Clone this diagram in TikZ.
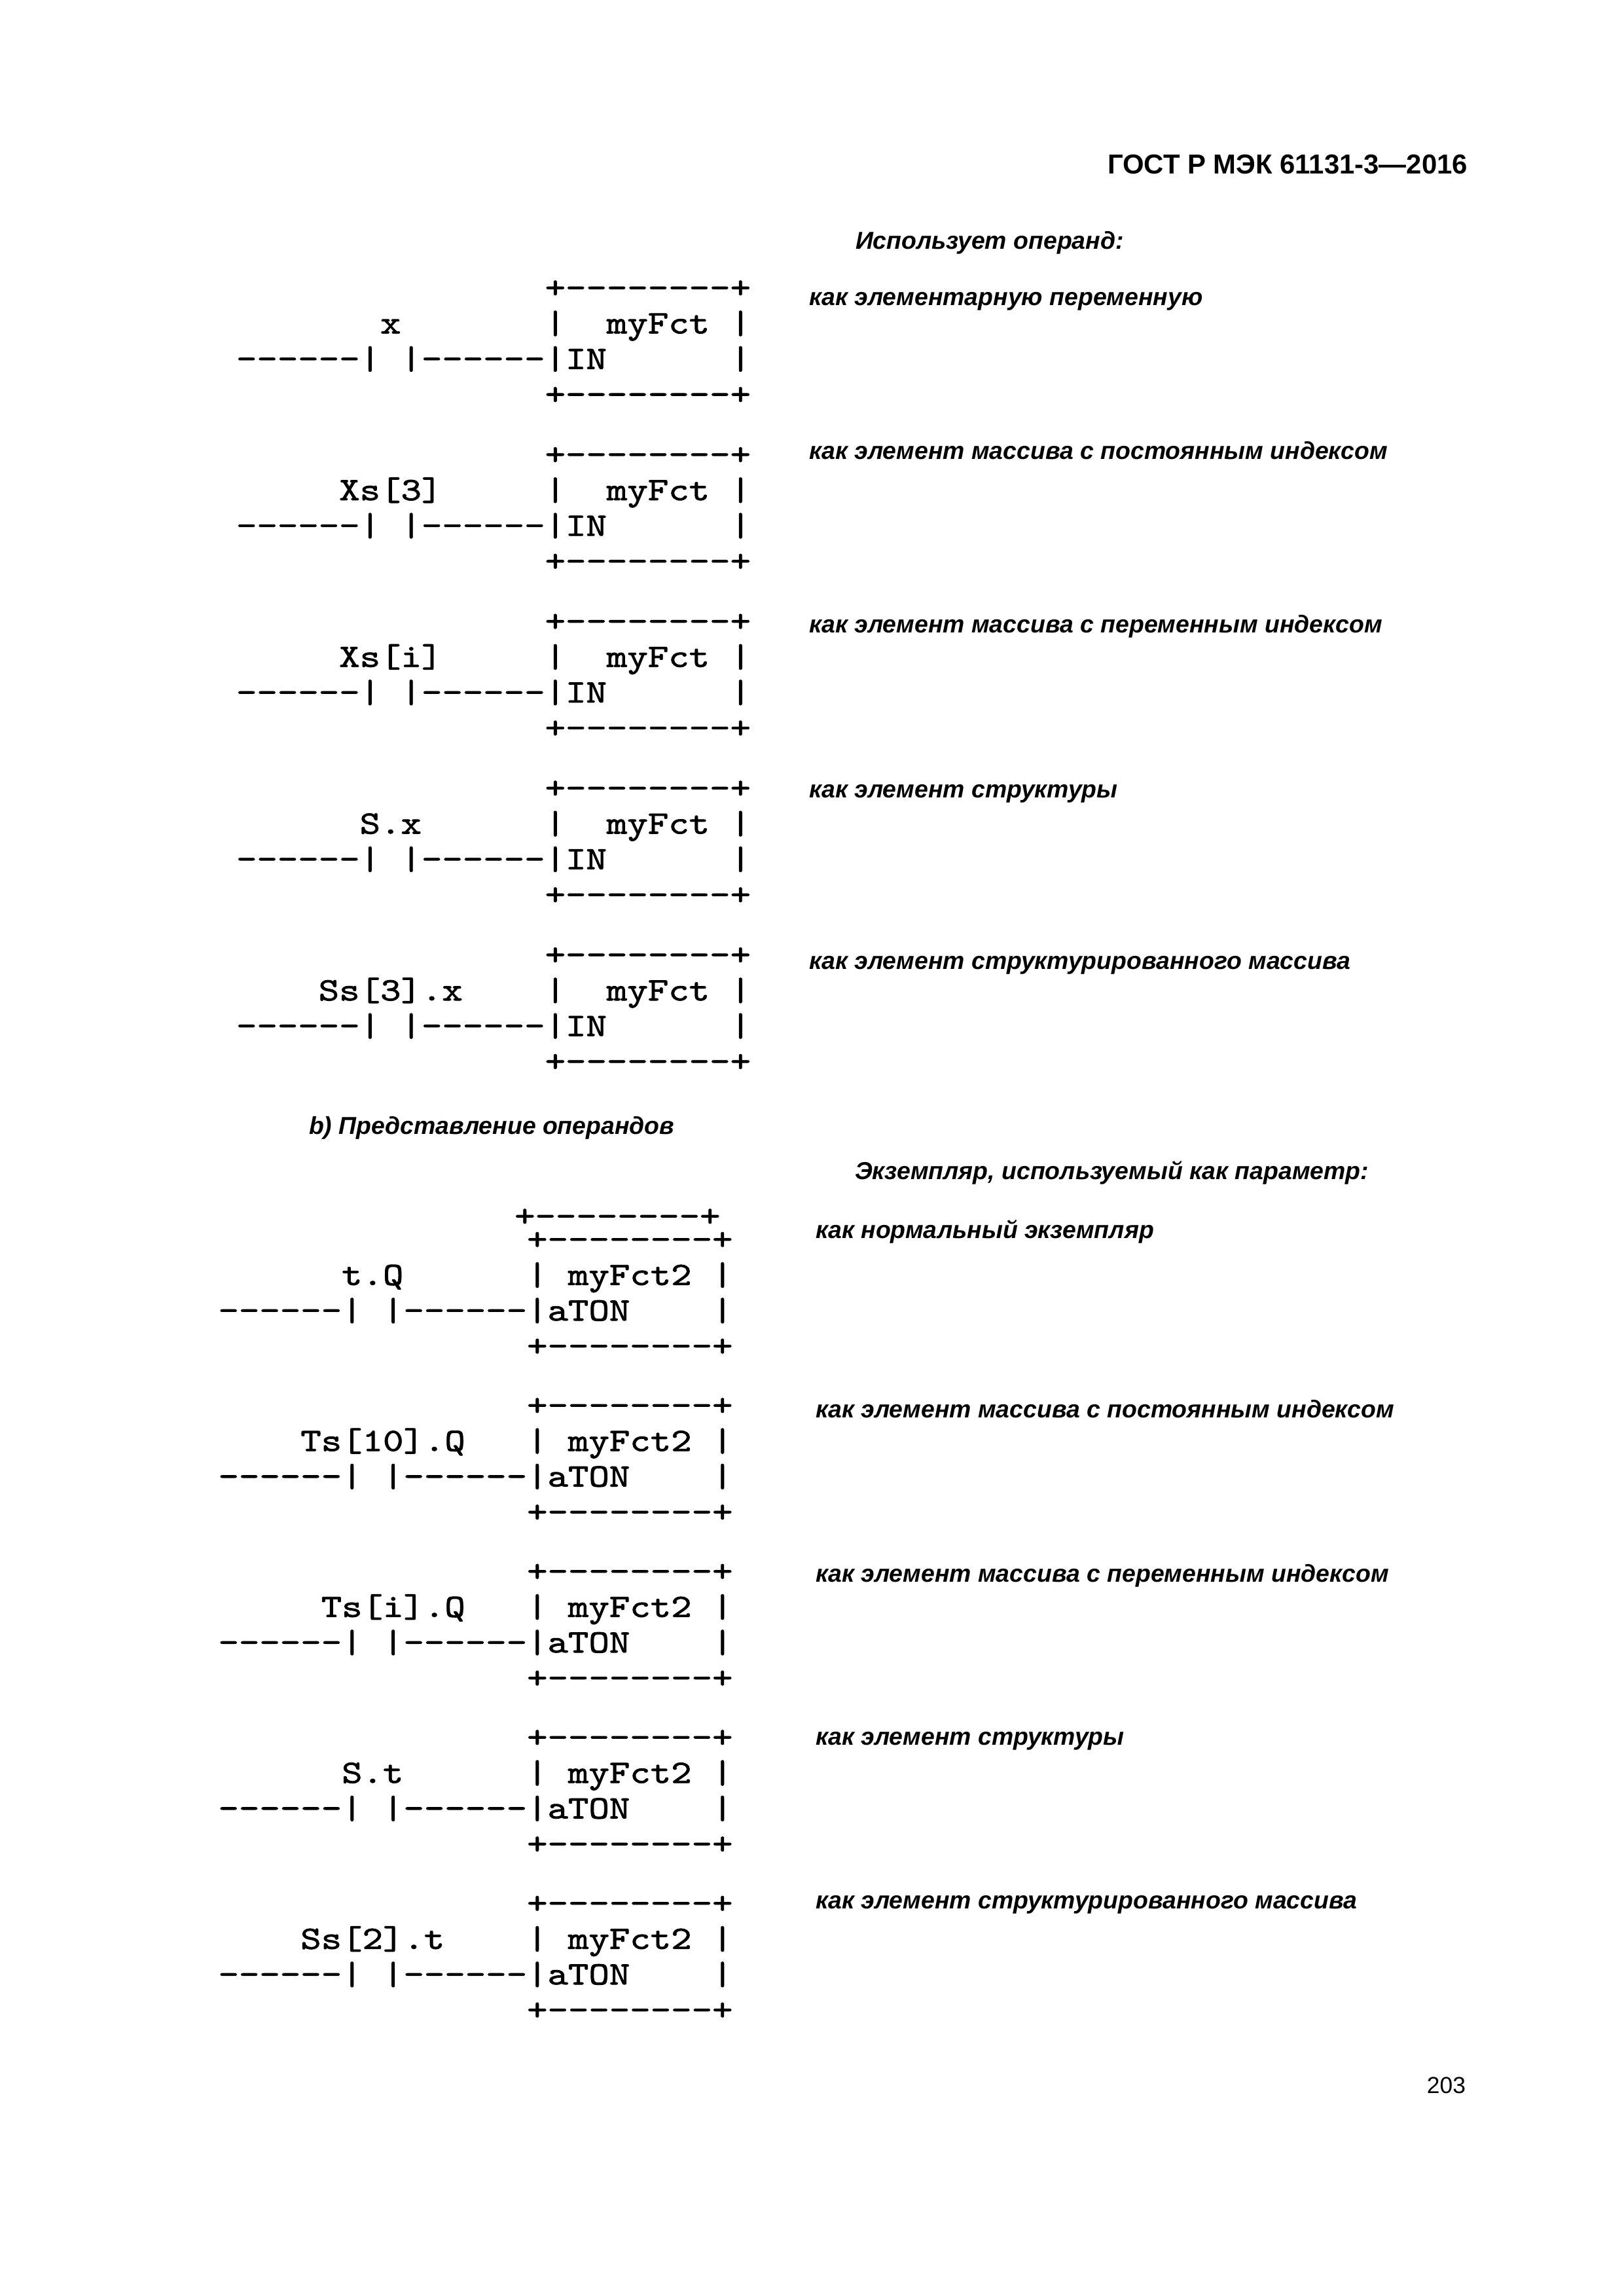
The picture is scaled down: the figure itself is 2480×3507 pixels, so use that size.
\documentclass[tikz,border=0pt]{standalone}
\usepackage{fontspec}
\setmainfont{Liberation Sans}
\newfontfamily\monof[FakeStretch=1.2,FakeBold=1.6,Ligatures=TeXOff]{lmmono10-regular.otf}
\newlength\wtmp
\def\CW{31.44}
\def\LS{54.3}
\def\XA{361}
\def\XB{333.5}
\newcommand\fblock[8]{%
 \node[mono] (#1a) at ({#2+15*\CW},{#3}) {+--------+};
 \node[mono] (#1b) at ({#2+#4*\CW},{#3+\LS}) {#5};
 \node[mono] (#1c) at ({#2+15*\CW},{#3+\LS}) {|};
 \node[mono] (#1d) at ({#2+#7*\CW},{#3+\LS}) {#6};
 \node[mono] (#1e) at ({#2+24*\CW},{#3+\LS}) {|};
 \node[mono] (#1f) at ({#2},{#3+2*\LS}) {------|};
 \node[mono] (#1g) at ({#2+8*\CW},{#3+2*\LS}) {|------|#8};
 \node[mono] (#1h) at ({#2+24*\CW},{#3+2*\LS}) {|};
 \node[mono] (#1i) at ({#2+15*\CW},{#3+3*\LS}) {+--------+};
}
\begin{document}
\settowidth\wtmp{\bfseries\itshape\fontsize{10}{12}\selectfont как элемент массива с постоянным индексом}%
\pgfmathsetmacro\itsz{10*212.2/\wtmp}%
\settowidth\wtmp{\bfseries\fontsize{10}{12}\selectfont ГОСТ Р МЭК 61131-3—2016}%
\pgfmathsetmacro\hdsz{10*132/\wtmp}%
\begin{tikzpicture}[x=0.24pt,y=-0.24pt,
  mono/.style={anchor=base west,inner sep=0pt,outer sep=0pt,font=\monof\fontsize{11.977}{14}\selectfont},
  lab/.style={anchor=base west,inner sep=0pt,outer sep=0pt,font=\bfseries\itshape\fontsize{\itsz}{\itsz}\selectfont},
  hdr/.style={anchor=base east,inner sep=0pt,outer sep=0pt,font=\bfseries\fontsize{\hdsz}{\hdsz}\selectfont},
  pnum/.style={anchor=base east,inner sep=0pt,outer sep=0pt,font=\fontsize{8.5}{10}\selectfont}]
\fill[white] (0,0) rectangle (2480,3507);
\useasboundingbox (0,0) rectangle (2480,3507);
% header and page number
\node[hdr] (hd) at (2242,266) {ГОСТ Р МЭК 61131-3—2016};
\node[pnum] (pn) at (2239,3197) {203};
% top set
\node[lab] (u0) at (1307,381) {Использует операнд:};
\node[lab] (u1) at (1236,467) {как элементарную переменную};
\node[lab] (u2) at (1236,702) {как элемент массива с постоянным индексом};
\node[lab] (u3) at (1236,967) {как элемент массива с переменным индексом};
\node[lab] (u4) at (1236,1218) {как элемент структуры};
\node[lab] (u5) at (1236,1480) {как элемент структурированного массива};
\fblock{ta}{\XA}{455}{7}{x}{myFct}{18}{IN}
\fblock{tb}{\XA}{709.7}{5}{Xs[3]}{myFct}{18}{IN}
\fblock{tc}{\XA}{964.4}{5}{Xs[i]}{myFct}{18}{IN}
\fblock{td}{\XA}{1219.1}{6}{S.x}{myFct}{18}{IN}
\fblock{te}{\XA}{1473.8}{4}{Ss[3].x}{myFct}{18}{IN}
% caption b)
\node[lab] (cb) at (472,1732) {b) Представление операндов};
% bottom set
\node[lab] (v0) at (1306,1801) {Экземпляр, используемый как параметр:};
\node[lab] (v1) at (1246,1891) {как нормальный экземпляр};
\node[lab] (v2) at (1246,2165) {как элемент массива с постоянным индексом};
\node[lab] (v3) at (1246,2416) {как элемент массива с переменным индексом};
\node[lab] (v4) at (1246,2665) {как элемент структуры};
\node[lab] (v5) at (1246,2915) {как элемент структурированного массива};
\node[mono] (bx) at ({\XB+15*\CW-19},1873) {+--------+};
\fblock{ba}{\XB}{1908.5}{6}{t.Q}{myFct2}{17}{aTON}
\fblock{bb}{\XB}{2162}{4}{Ts[10].Q}{myFct2}{17}{aTON}
\fblock{bc}{\XB}{2415.5}{5}{Ts[i].Q}{myFct2}{17}{aTON}
\fblock{bd}{\XB}{2669}{6}{S.t}{myFct2}{17}{aTON}
\fblock{be}{\XB}{2922.5}{4}{Ss[2].t}{myFct2}{17}{aTON}
\end{tikzpicture}
\end{document}
